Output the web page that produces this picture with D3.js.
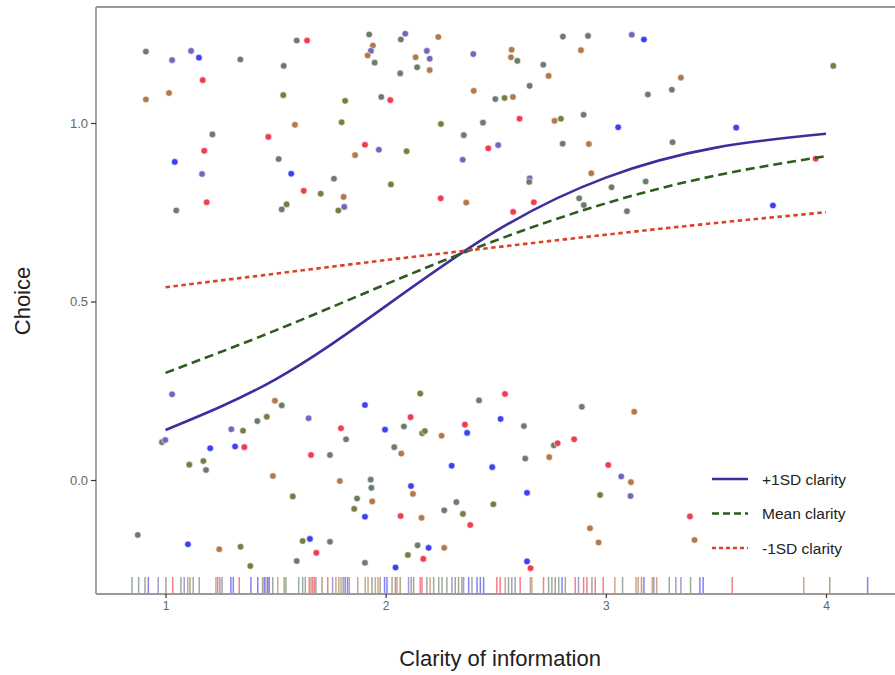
<!DOCTYPE html>
<html>
<head>
<meta charset="utf-8">
<script src="https://cdn.jsdelivr.net/npm/d3@7"></script>
<style>
  body { margin: 0; background: #fff; }
  text { font-family: "Liberation Sans", Arial, sans-serif; }
</style>
</head>
<body>
<div id="chart"></div>
<script>
// fitted curves
var clarityGrid = [1, 1.5, 2, 2.5, 3, 3.5, 4];
var plusSD  = [0.14, 0.282, 0.487, 0.697, 0.847, 0.931, 0.97];
var meanSD  = [0.30, 0.419, 0.548, 0.671, 0.775, 0.853, 0.907];
var minusSD = [0.54, 0.578, 0.616, 0.652, 0.687, 0.720, 0.75];

var seriesNames = ["+1SD clarity", "Mean clarity", "-1SD clarity"];

var xTicks = [1, 2, 3, 4];
var yTicks = [0, 0.5, 1];
var yTickLabels = ["0.0", "0.5", "1.0"];

// jittered observations
var ptX = [
  0.911,1.030,1.116,1.152,1.340,1.596,1.643,1.537,1.169,0.911,1.016,1.535,1.816,1.800,1.588,1.213,1.467,1.176,1.042,1.514,
  1.861,1.166,1.571,1.765,1.628,1.705,1.809,1.187,1.049,1.528,1.550,1.785,1.812,
  1.925,2.089,2.069,1.942,1.933,1.918,1.950,2.239,2.187,2.200,2.136,2.143,2.200,2.066,2.398,2.572,2.569,2.598,2.716,2.805,
  2.919,2.887,2.740,2.654,2.400,2.498,2.540,2.578,1.980,2.021,2.251,2.442,2.608,2.767,2.796,2.899,3.056,2.355,1.906,1.969,
  2.095,2.466,2.511,2.350,2.804,2.923,2.024,2.654,2.652,2.934,3.026,2.250,2.366,2.673,2.579,2.879,2.900,3.096,
  3.118,3.173,3.341,3.191,3.300,4.033,3.592,3.303,3.181,3.953,3.759,
  1.030,0.984,0.999,1.108,1.184,1.172,1.203,1.299,1.352,1.316,1.358,1.417,1.460,1.497,1.528,1.650,1.797,1.820,1.661,1.747,
  1.488,1.792,1.578,1.870,1.857,0.874,1.102,1.244,1.341,1.385,1.623,1.656,1.685,1.747,1.596,
  1.906,2.157,2.424,2.542,2.891,2.113,2.083,1.997,2.166,2.178,2.254,2.360,2.370,2.522,2.628,2.039,2.071,2.764,2.781,2.856,
  2.743,2.634,2.300,2.484,3.011,3.070,3.114,3.112,1.932,1.935,1.939,2.115,2.124,2.642,2.974,2.321,2.266,2.351,2.489,1.906,
  2.068,2.163,2.384,2.928,2.967,2.145,2.195,2.266,2.101,2.171,1.906,2.045,2.642,2.658,
  3.129,3.382,3.403
];
var ptY = [
  1.200,1.176,1.202,1.183,1.178,1.231,1.231,1.160,1.120,1.066,1.084,1.078,1.062,1.002,0.995,0.968,0.961,0.922,0.891,0.899,
  0.910,0.857,0.858,0.844,0.810,0.802,0.793,0.778,0.755,0.758,0.772,0.755,0.765,
  1.248,1.250,1.234,1.217,1.202,1.189,1.169,1.241,1.202,1.180,1.184,1.156,1.148,1.139,1.193,1.205,1.184,1.174,1.163,1.242,
  1.244,1.204,1.132,1.104,1.090,1.067,1.070,1.073,1.073,1.064,0.997,1.001,1.012,1.006,1.012,1.023,0.988,0.966,0.939,0.925,
  0.921,0.929,0.938,0.897,0.942,0.941,0.828,0.845,0.835,0.859,0.820,0.789,0.777,0.778,0.751,0.789,0.770,0.753,
  1.247,1.234,1.127,1.080,1.093,1.160,0.987,0.946,0.836,0.900,0.769,
  0.240,0.106,0.112,0.043,0.028,0.053,0.089,0.142,0.138,0.094,0.092,0.165,0.177,0.222,0.209,0.173,0.145,0.114,0.070,0.070,
  0.011,-0.003,-0.046,-0.052,-0.081,-0.154,-0.180,-0.194,-0.187,-0.241,-0.171,-0.165,-0.204,-0.173,-0.227,
  0.210,0.242,0.223,0.241,0.205,0.176,0.150,0.141,0.131,0.137,0.124,0.155,0.132,0.171,0.151,0.092,0.074,0.097,0.103,0.114,
  0.064,0.060,0.040,0.036,0.042,0.010,-0.006,-0.045,0.001,-0.022,-0.060,-0.017,-0.039,-0.036,-0.042,-0.062,-0.085,-0.095,-0.068,-0.103,
  -0.101,-0.106,-0.126,-0.135,-0.175,-0.183,-0.190,-0.190,-0.210,-0.221,-0.232,-0.245,-0.228,-0.247,
  0.191,-0.102,-0.168
];
// colour group of each point (g grey-green, o olive, b brown, r red, u blue, p purple)
var ptGroup = (
  "gppuggrgrbbooobgrrugbpugrobrggoop" +
  "gpgbpbgbpp" + "bgbgpbbggg" + "gbbgbgobgr" + "ogrbogugrp" + "orppgbopgb" + "grbrrggg" +
  "pubggouggru" +
  "pgpogoupou" + "rgobgprgrg" + "bbogo" + "gubooourgg" +
  "uogrgrguoo" + "bruuggbgrr" + "bguurpbpgg" + "bubuoggoou" + "rbrbbgubor" + "guur" +
  "brb"
).split("");

// rug along the x axis
var rugX = [
  0.848,0.878,0.907,0.922,0.967,1.002,1.033,1.070,1.085,1.101,1.111,1.126,1.153,1.229,1.237,1.247,1.257,1.297,1.308,1.335,
  1.388,1.419,1.441,1.449,1.456,1.464,1.471,1.487,1.510,1.539,1.547,1.605,1.623,1.635,1.653,1.661,1.668,1.676,1.683,1.711,
  1.737,1.759,1.774,1.787,1.797,1.807,1.816,1.827,1.835,1.873,
  1.907,1.920,1.938,1.953,1.965,1.975,1.995,2.006,2.029,2.044,2.051,2.066,2.104,2.116,2.127,2.157,2.165,2.187,2.202,2.218,
  2.241,2.256,2.278,2.301,2.316,2.331,2.346,2.354,2.377,2.392,2.415,2.430,2.445,2.505,2.520,2.543,2.558,2.573,2.588,2.611,
  2.657,2.664,2.717,2.740,2.755,2.770,2.786,2.801,2.816,2.861,2.876,2.899,2.914,2.937,2.952,
  2.988,3.041,3.076,3.137,3.147,3.162,3.173,3.211,3.218,3.231,3.288,3.318,3.341,3.385,3.427,3.442,3.574,3.899,4.017,4.189
];
var rugGroup = (
  "ggoupgrgpb" + "oggbrpguur" + "uuoubuugbg" + "ogggrbrrgo" + "rpbbbguubb" +
  "bbgbbouugr" + "bopporrgbo" + "gggpgogpug" + "uuurrbgpgr" + "bbrggogugr" + "prrgr" +
  "rbgbbrubpb" + "gppguurbou"
).split("");

var palette = {
  g: "#6a7d6b", o: "#7a7c42", b: "#b27a4c", r: "#ee3d4f", u: "#4040f2", p: "#7466bb"
};

var width = 895, height = 675;
var panel = { left: 96, top: 7, right: 905, bottom: 594 };

var svg = d3.select("#chart").append("svg")
  .attr("width", width)
  .attr("height", height);

var x = d3.scaleLinear().domain([1, 4]).range([165.5, 826]);
var y = d3.scaleLinear().domain([0, 1]).range([480, 123]);

svg.append("clipPath").attr("id", "clip")
  .append("rect")
  .attr("x", panel.left).attr("y", panel.top)
  .attr("width", panel.right - panel.left).attr("height", panel.bottom - panel.top);

var plot = svg.append("g").attr("clip-path", "url(#clip)");

// points
plot.selectAll("circle.pt")
  .data(ptX.map(function(d, i) { return { x: d, y: ptY[i], g: ptGroup[i] }; }))
  .enter().append("circle")
  .attr("class", "pt")
  .attr("cx", function(d) { return x(d.x); })
  .attr("cy", function(d) { return y(d.y); })
  .attr("r", 3.3)
  .style("fill", function(d) { return palette[d.g] || palette.g; })
  .style("stroke", "#fff")
  .style("stroke-width", 0.6);

// rug
plot.selectAll("line.rug")
  .data(rugX.map(function(d, i) { return { x: d, g: rugGroup[i] }; }))
  .enter().append("line")
  .attr("class", "rug")
  .attr("x1", function(d) { return x(d.x); })
  .attr("x2", function(d) { return x(d.x); })
  .attr("y1", panel.bottom)
  .attr("y2", panel.bottom - 17)
  .style("stroke", function(d) { return palette[d.g] || palette.g; })
  .style("stroke-width", 1.5)
  .style("opacity", 0.65);

// curves
var lineStyles = [
  { values: plusSD,  color: "#3b2f9c", dash: null },
  { values: meanSD,  color: "#2f5c1c", dash: "9,5" },
  { values: minusSD, color: "#dc4128", dash: "4.5,3.5" }
];

var line = d3.line()
  .x(function(d) { return x(d[0]); })
  .y(function(d) { return y(d[1]); })
  .curve(d3.curveNatural);

lineStyles.forEach(function(s) {
  plot.append("path")
    .datum(clarityGrid.map(function(c, i) { return [c, s.values[i]]; }))
    .attr("d", line)
    .style("fill", "none")
    .style("stroke", s.color)
    .style("stroke-width", 2.6)
    .style("stroke-dasharray", s.dash);
});

// panel frame (left, bottom, top)
var frame = svg.append("g").style("stroke", "#9a9a9a").style("stroke-width", 1.8);
frame.append("line").attr("x1", panel.left).attr("x2", width).attr("y1", panel.top).attr("y2", panel.top);
frame.append("line").attr("x1", panel.left).attr("x2", panel.left).attr("y1", panel.top).attr("y2", panel.bottom);
frame.append("line").attr("x1", panel.left).attr("x2", width).attr("y1", panel.bottom).attr("y2", panel.bottom);

// axes
var xAxis = d3.axisBottom(x).tickValues(xTicks).tickFormat(d3.format("d")).tickSize(4).tickPadding(3);
var yAxis = d3.axisLeft(y).tickValues(yTicks).tickFormat(function(d, i) { return yTickLabels[i]; })
  .tickSize(5).tickPadding(3);

var gx = svg.append("g").attr("transform", "translate(0," + panel.bottom + ")").call(xAxis);
var gy = svg.append("g").attr("transform", "translate(" + panel.left + ",0)").call(yAxis);

[gx, gy].forEach(function(g) {
  g.select(".domain").remove();
  g.selectAll(".tick line").style("stroke", "#333").style("stroke-width", 1.2);
  g.selectAll(".tick text").style("fill", "#666").style("font-size", "12px");
});
gy.selectAll(".tick text").style("font-size", "13px");

// axis titles
svg.append("text")
  .attr("x", 500).attr("y", 666)
  .attr("text-anchor", "middle")
  .style("font-size", "22px").style("fill", "#222")
  .text("Clarity of information");

svg.append("text")
  .attr("transform", "translate(30,301) rotate(-90)")
  .attr("text-anchor", "middle")
  .style("font-size", "22px").style("fill", "#222")
  .text("Choice");

// legend
var legend = svg.append("g").attr("transform", "translate(712,479)");
lineStyles.forEach(function(s, i) {
  var row = legend.append("g").attr("transform", "translate(0," + (i * 34.5) + ")");
  row.append("line")
    .attr("x1", 0).attr("x2", 36).attr("y1", 0).attr("y2", 0)
    .style("stroke", s.color)
    .style("stroke-width", 2.4)
    .style("stroke-dasharray", i === 0 ? null : (i === 1 ? "7,4" : "4,3"));
  row.append("text")
    .attr("x", 50).attr("y", 5.5)
    .style("font-size", "15.5px").style("fill", "#222")
    .text(seriesNames[i]);
});
</script>
</body>
</html>
